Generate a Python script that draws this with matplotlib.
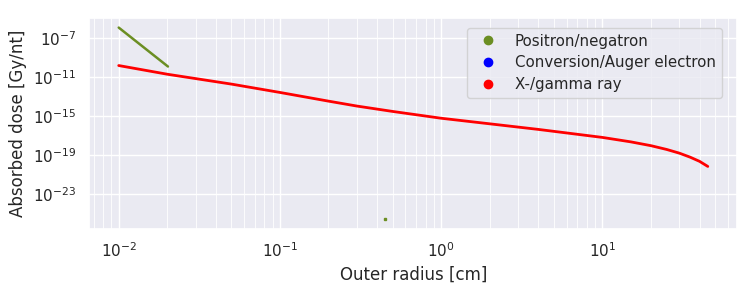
import numpy as np
import matplotlib
matplotlib.use("Agg")
import matplotlib.pyplot as plt
import seaborn as sns
from matplotlib.lines import Line2D

# values (log-log)
labels = ["Positron/negatron", "Conversion/Auger electron", "X-/gamma ray"]
colors = ["olivedrab", "blue", "red"]

beta_r = [0.01, 0.0202]
beta_d = [1.15e-6, 1.15e-10]
beta_pt_r = [0.45]
beta_pt_d = [2.5e-26]

ce_r = []
ce_d = []

gamma_r = [0.01, 0.02, 0.05, 0.1, 0.2, 0.3, 0.5, 1.0, 2.0, 4.0, 10.0,
           15.0, 20.0, 25.0, 30.0, 35.0, 40.0, 45.0]
gamma_d = [1.45e-10, 1.86e-11, 1.8e-12, 2.5e-13, 3.2e-14, 1.0e-14, 2.8e-15,
           5.6e-16, 1.5e-16, 4.0e-17, 6.0e-18,
           2.1e-18, 8.5e-19, 3.5e-19, 1.45e-19, 5.6e-20, 2.1e-20, 6.3e-21]

sns.set_theme(style="darkgrid")
plt.rcParams['font.family'] = ['DejaVu Sans']

fig, ax = plt.subplots(figsize=(7.5, 3), dpi=100)
fig.subplots_adjust(left=0.119, right=0.983, top=0.94, bottom=0.238)

ax.plot(beta_r, beta_d, color=colors[0], lw=1.8)
ax.plot(beta_pt_r, beta_pt_d, 's', color=colors[0], ms=2)
if len(ce_r):
    ax.plot(ce_r, ce_d, color=colors[1], lw=1.8)
ax.plot(gamma_r, gamma_d, color=colors[2], lw=2.0)

ax.set_xscale("log")
ax.set_yscale("log")
ax.grid(which="minor", color="white", linewidth=0.6)
ax.set_xlabel("Outer radius [cm]")
ax.set_ylabel("Absorbed dose [Gy/nt]")

handles = [Line2D([], [], ls="", marker="o", ms=6, color=c) for c in colors]
ax.legend(handles, labels, loc="upper right", bbox_to_anchor=(0.988, 0.99),
          fontsize=10.8, labelspacing=0.45)

fig.savefig("out.png")
